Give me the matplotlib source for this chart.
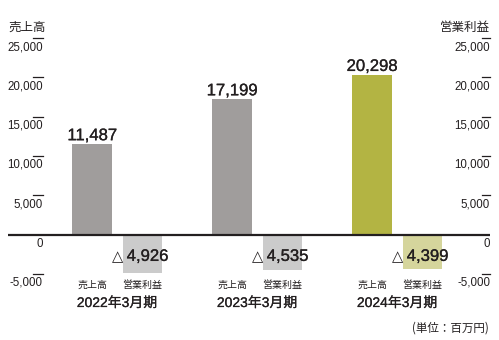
import matplotlib
matplotlib.use("Agg")
import matplotlib.pyplot as plt
import matplotlib.transforms as mtransforms
import matplotlib.patheffects as pe

# ---- data ----
periods = ["2022年3月期", "2023年3月期", "2024年3月期"]
revenue = [11487, 17199, 20298]
op_income = [-4926, -4535, -4399]
rev_colors = ["#a09d9c", "#a09d9c", "#b3b443"]
op_colors = ["#cbcbcb", "#cbcbcb", "#d5d59c"]
ytick_vals = [-5000, 0, 5000, 10000, 15000, 20000, 25000]
left_title = "売上高"
right_title = "営業利益"
bar_names = ["売上高", "営業利益"]
unit_label = "(単位：百万円)"

FAM = ["Liberation Sans", "Noto Sans CJK JP", "DejaVu Sans"]
CJK = ["Noto Sans CJK JP", "Liberation Sans", "DejaVu Sans"]
TXT = "#231f20"
heavy = [pe.withStroke(linewidth=0.2, foreground=TXT)]

W, H = 499, 340
fig = plt.figure(figsize=(W / 100, H / 100), dpi=100)
ax = fig.add_axes([8 / W, (H - 273.8) / H, 482 / W, (273.8 - 38.0) / H])
ax.set_xlim(-0.780, 2.6625)
ax.set_ylim(-5000, 25000)
ax.axis("off")

off = 0.179
bw = 0.282
xs = list(range(len(periods)))
rev_x = [x - off for x in xs]
op_x = [x + off for x in xs]

ax.bar(rev_x, revenue, width=bw, color=rev_colors, zorder=2)
ax.bar(op_x, op_income, width=bw, color=op_colors, zorder=2)
ax.axhline(0, color=TXT, lw=1.6, zorder=3)

# ticks and labels
yt = ax.get_yaxis_transform()
for v in ytick_vals:
    lab = f"{v:,}"
    if v != 0:
        ax.plot([0.0519, 0.0726], [v, v], transform=yt, color=TXT, lw=0.9, clip_on=False)
        ax.plot([0.983, 1.0], [v, v], transform=yt, color=TXT, lw=0.9, clip_on=False)
    ax.annotate(lab, xy=(0.0726, v), xycoords=yt, xytext=(0, -2.2), textcoords="offset points",
                ha="right", va="top", fontsize=8.3, family=FAM, color=TXT)
    ax.annotate(lab, xy=(1.0, v), xycoords=yt, xytext=(0, -2.2), textcoords="offset points",
                ha="right", va="top", fontsize=8.3, family=FAM, color=TXT)

# value labels
for x, v in zip(rev_x, revenue):
    ax.annotate(f"{v:,}", xy=(x, v), xytext=(0, 2.9), textcoords="offset points",
                ha="center", va="baseline", fontsize=12, family=FAM, color=TXT, zorder=4,
                path_effects=heavy)
for x, v in zip(op_x, op_income):
    ax.annotate(f"{abs(v):,}", xy=(x, 0), xytext=(-11.2, -19), textcoords="offset points",
                ha="left", va="baseline", fontsize=12, family=FAM, color=TXT, zorder=4,
                path_effects=heavy)
    ax.annotate("△", xy=(x, 0), xytext=(-13.8, -19), textcoords="offset points",
                ha="right", va="baseline", fontsize=10.5, family=["DejaVu Sans"], color=TXT, zorder=4)

# category labels
bt = mtransforms.blended_transform_factory(ax.transData, fig.transFigure)
for i in xs:
    ax.text(rev_x[i], 1 - 285 / H, bar_names[0], transform=bt, ha="center", va="center",
            fontsize=7.2, family=CJK, color=TXT)
    ax.text(op_x[i], 1 - 285 / H, bar_names[1], transform=bt, ha="center", va="center",
            fontsize=7.2, family=CJK, color=TXT)
    ax.text(i, 1 - 303 / H, periods[i], transform=bt, ha="center", va="center",
            fontsize=10, family=FAM, color=TXT,
            path_effects=[pe.withStroke(linewidth=0.15, foreground=TXT)])

fig.text(8 / W, 1 - 27 / H, left_title, ha="left", va="center", fontsize=9, family=CJK, color=TXT)
fig.text(490 / W, 1 - 27 / H, right_title, ha="right", va="center", fontsize=9, family=CJK, color=TXT)
fig.text(489 / W, 1 - 328 / H, unit_label, ha="right", va="center", fontsize=8.3, family=CJK, color=TXT)

fig.savefig("out.png", dpi=100)
